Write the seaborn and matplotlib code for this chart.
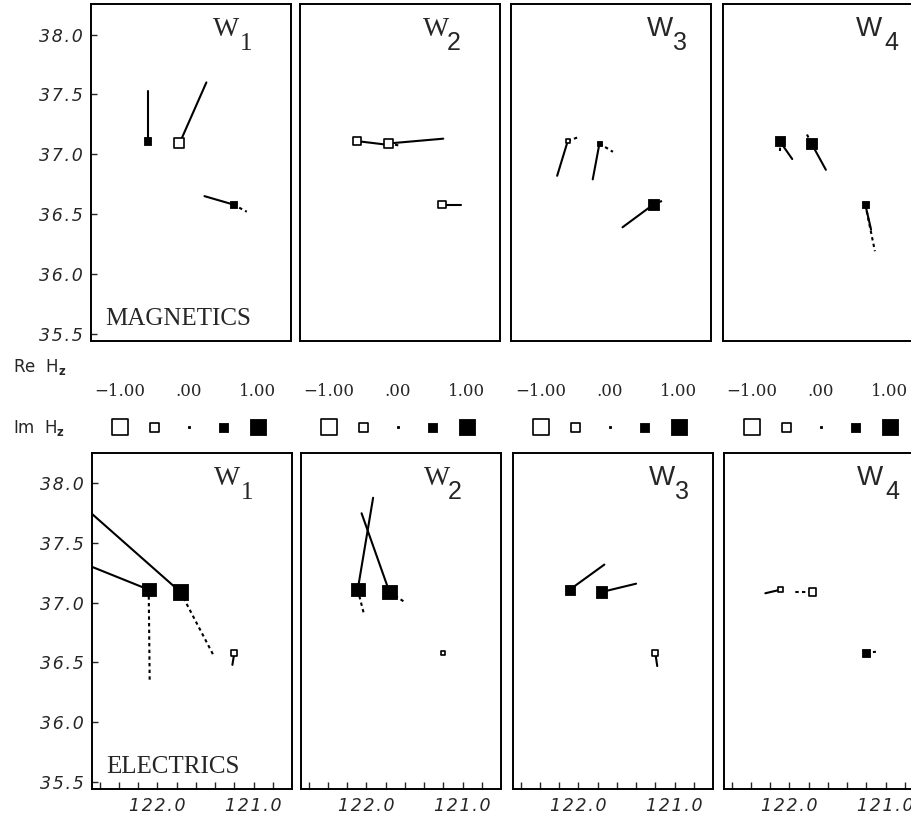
import numpy as np
import pandas as pd
import matplotlib
matplotlib.use("Agg")
import matplotlib.pyplot as plt
import seaborn as sns

nan = np.nan

# ---------------- data ----------------
STATION_LON = [122.09, 121.76, 121.20]      # deg W
STATION_LAT = [37.11, 37.09, 36.58]         # deg N
PERIODS = ["1", "2", "3", "4"]
COMPONENTS = ["MAGNETICS", "ELECTRICS"]

# square value (-1 .. 1): rows W1..W4, columns stations
MAG_HZ = [[0.38, -0.60, 0.38], [-0.45, -0.55, -0.40], [-0.15, 0.23, 0.70], [0.55, 0.70, 0.30]]
ELE_HZ = [[0.85, 1.00, -0.30], [0.85, 0.92, -0.15], [0.60, 0.70, -0.23], [-0.23, -0.38, 0.38]]

# solid vector tips (lon, lat)
MAG_RE_LON = [[122.09, 121.48, 121.50], [121.78, 121.19, 121.01], [122.20, 121.83, 121.52], [121.96, 121.61, 121.14]]
MAG_RE_LAT = [[37.53, 37.60, 36.65], [37.08, 37.13, 36.58], [36.82, 36.79, 36.39], [36.96, 36.87, 36.37]]
# dotted vector tips
MAG_IM_LON = [[nan, nan, 121.06], [nan, 121.63, nan], [121.99, 121.62, 121.11], [122.09, 121.81, 121.10]]
MAG_IM_LAT = [[nan, nan, 36.52], [nan, 37.07, nan], [37.14, 37.02, 36.61], [37.02, 37.17, 36.19]]

ELE_RE_LON = [[122.80, 122.80, 121.22], [121.93, 122.05, nan], [121.73, 121.40, 121.18], [122.25, nan, nan]]
ELE_RE_LAT = [[37.34, 37.83, 36.48], [37.88, 37.75, nan], [37.32, 37.16, 36.47], [37.08, nan, nan]]
ELE_IM_LON = [[122.08, 121.41, nan], [122.03, 121.59, nan], [nan, nan, nan], [nan, 121.94, 121.10]]
ELE_IM_LAT = [[36.33, 36.55, nan], [36.92, 37.00, nan], [nan, nan, nan], [nan, 37.09, 36.59]]

LEGEND_VALUES = [-1.0, -0.5, 0.0, 0.5, 1.0]
LEGEND_LABELS = ["\u22121.00", ".00", "1.00"]
LEGEND_LABEL_POS = [-1.0, 0.0, 1.0]

Y_TICKS = [35.5, 36.0, 36.5, 37.0, 37.5, 38.0]
X_TICKS = [122.6, 122.4, 122.2, 122.0, 121.8, 121.6, 121.4, 121.2, 121.0, 120.8]
X_LABELED = [122.0, 121.0]

# ---------------- style ----------------
sns.set_style("white")
plt.rcParams["font.family"] = ["DejaVu Sans"]
plt.rcParams["axes.edgecolor"] = "black"
plt.rcParams["axes.linewidth"] = 1.4

W, H = 912, 823
fig = plt.figure(figsize=(W / 100, H / 100), dpi=100)

TOP_LEFT = [91, 300, 511, 723]
BOT_LEFT = [92, 301, 513, 724]
PANEL_W = 200
ROWS = [(4, 341, TOP_LEFT), (453, 789, BOT_LEFT)]
XLIM = (122.68, 120.60)
YLIM = (35.44, 38.255)

TITLE_W_X = [0.61, 0.615, 0.68, 0.665]
TITLE_S_X = [0.745, 0.735, 0.81, 0.805]
TITLE_W_FONT = ["Liberation Serif", "Liberation Serif", "Liberation Sans", "Liberation Sans"]
TITLE_S_FONT = ["Liberation Serif", "Liberation Sans", "Liberation Sans", "Liberation Sans"]

TICK_FONT = dict(family="DejaVu Sans", style="oblique", size=12.5)


def spaced(s):
    return "\u200a".join(s)


def side_pt(v):
    return (2.5 + 13.0 * abs(v)) * 0.72


def draw_panel(ax, hz, re_lon, re_lat, im_lon, im_lat):
    rows = []
    for k in range(3):
        for part, lon, lat in (("Im", im_lon[k], im_lat[k]), ("Re", re_lon[k], re_lat[k])):
            if np.isnan(lon):
                continue
            seg = f"{part}{k}"
            rows.append(dict(lon=STATION_LON[k], lat=STATION_LAT[k], seg=seg, part=part))
            rows.append(dict(lon=lon, lat=lat, seg=seg, part=part))
    df = pd.DataFrame(rows)
    if len(df):
        sns.lineplot(data=df, x="lon", y="lat", units="seg", estimator=None, sort=False,
                     style="part", dashes={"Re": "", "Im": (1.6, 1.6)}, color="black",
                     linewidth=1.5, legend=False, ax=ax)
    st = pd.DataFrame(dict(lon=STATION_LON, lat=STATION_LAT, hz=hz))
    pos = st[st.hz >= 0]
    neg = st[st.hz < 0]
    if len(pos):
        sns.scatterplot(data=pos, x="lon", y="lat", marker="s", color="black", edgecolor="black",
                        linewidth=0.6, s=[side_pt(v) ** 2 for v in pos.hz], legend=False, ax=ax,
                        zorder=5)
    if len(neg):
        sns.scatterplot(data=neg, x="lon", y="lat", marker="s", color="white", edgecolor="black",
                        linewidth=1.2, s=[side_pt(v) ** 2 for v in neg.hz], legend=False, ax=ax,
                        zorder=5)


data_sets = [
    (MAG_HZ, MAG_RE_LON, MAG_RE_LAT, MAG_IM_LON, MAG_IM_LAT),
    (ELE_HZ, ELE_RE_LON, ELE_RE_LAT, ELE_IM_LON, ELE_IM_LAT),
]

for r, (top, bot, lefts) in enumerate(ROWS):
    hz, rlo, rla, ilo, ila = data_sets[r]
    for c in range(4):
        ax = fig.add_axes([lefts[c] / W, (H - bot) / H, PANEL_W / W, (bot - top) / H])
        draw_panel(ax, hz[c], rlo[c], rla[c], ilo[c], ila[c])
        ax.set_xlim(*XLIM)
        ax.set_ylim(*YLIM)
        ax.set_xlabel("")
        ax.set_ylabel("")
        for sp in ax.spines.values():
            sp.set_visible(True)
            sp.set_color("black")
            sp.set_linewidth(1.4)
        if c == 0:
            ax.set_yticks(Y_TICKS)
            ax.set_yticklabels([spaced(f"{v:.1f}") for v in Y_TICKS], fontdict=TICK_FONT)
            ax.tick_params(axis="y", direction="in", length=4, width=1, pad=6, left=True)
        else:
            ax.set_yticks([])
        if r == 1:
            ax.set_xticks(X_TICKS)
            ax.set_xticklabels([spaced(f"{v:.1f}") if v in X_LABELED else "" for v in X_TICKS],
                               fontdict=TICK_FONT)
            ax.tick_params(axis="x", direction="in", length=5, width=1, pad=6, bottom=True)
        else:
            ax.set_xticks([])
        ax.text(TITLE_W_X[c], 0.905, "W", transform=ax.transAxes, fontsize=20,
                family=TITLE_W_FONT[c], ha="left", va="baseline")
        ax.text(TITLE_S_X[c], 0.863, PERIODS[c], transform=ax.transAxes, fontsize=18,
                family=TITLE_S_FONT[c], ha="left", va="baseline")
        if c == 0:
            ax.text(0.07, 0.048, COMPONENTS[r], transform=ax.transAxes, fontsize=18,
                    family="Liberation Serif", ha="left", va="baseline")

# ---------------- scale strip between rows ----------------
LEG_TOP, LEG_BOT = 350, 450
for c in range(4):
    lax = fig.add_axes([BOT_LEFT[c] / W, (H - LEG_BOT) / H, PANEL_W / W, (LEG_BOT - LEG_TOP) / H])
    lax.set_xlim(-1.406, 1.493)
    lax.set_ylim(0, LEG_BOT - LEG_TOP)
    lax.axis("off")
    lg = pd.DataFrame(dict(v=LEGEND_VALUES, y=[23.0] * len(LEGEND_VALUES)))
    lpos = lg[lg.v >= 0]
    lneg = lg[lg.v < 0]
    sns.scatterplot(data=lpos, x="v", y="y", marker="s", color="black", edgecolor="black",
                    linewidth=0.6, s=[side_pt(v) ** 2 for v in lpos.v], legend=False, ax=lax)
    sns.scatterplot(data=lneg, x="v", y="y", marker="s", color="white", edgecolor="black",
                    linewidth=1.2, s=[side_pt(v) ** 2 for v in lneg.v], legend=False, ax=lax)
    for xv, lab in zip(LEGEND_LABEL_POS, LEGEND_LABELS):
        lax.text(xv, 59, lab, ha="center", va="center", fontsize=12, family="DejaVu Serif")

fig.text(13 / W, (H - 372) / H, r"Re  H$_{\mathbf{z}}$", fontsize=12, family="DejaVu Sans",
         ha="left", va="baseline")
fig.text(13 / W, (H - 433) / H, r"Im  H$_{\mathbf{z}}$", fontsize=12, family="DejaVu Sans",
         ha="left", va="baseline")

fig.savefig("out.png", dpi=100)
